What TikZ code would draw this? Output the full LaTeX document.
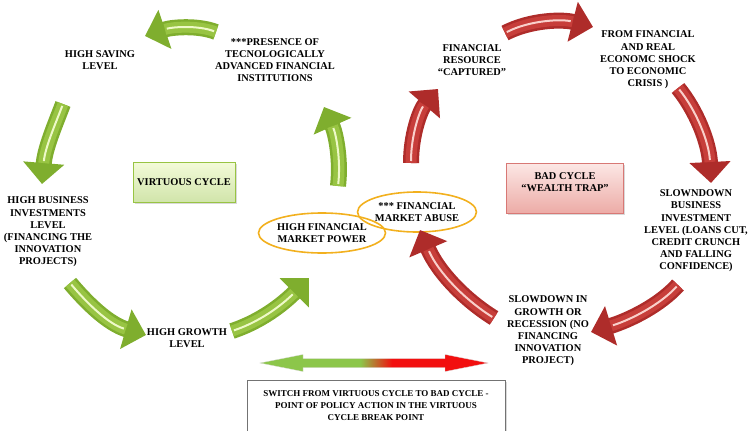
\documentclass[tikz,border=0pt]{standalone}
\usepackage{fontspec}
\setmainfont{Liberation Serif}
\usetikzlibrary{positioning,shapes.geometric,arrows.meta,shadows}

\definecolor{vgreen}{HTML}{7FAE2E}
\definecolor{vgreenmid}{HTML}{98C443}
\definecolor{vgreenlight}{HTML}{EEF9C8}
\definecolor{bred}{HTML}{AE2C2A}
\definecolor{bredmid}{HTML}{C73E3A}
\definecolor{bredlight}{HTML}{F9D0CB}
\definecolor{ringcol}{HTML}{F2B01E}
\definecolor{arrgreen}{HTML}{8CC64A}
\definecolor{arrred}{HTML}{F20F0F}

\pgfdeclarehorizontalshading{greentored}{100bp}{color(0bp)=(arrgreen); color(47bp)=(arrgreen); color(54bp)=(arrred); color(100bp)=(arrred)}

\begin{document}
\begin{tikzpicture}[x=1pt,y=-1pt,
    every node/.style={font=\bfseries\fontsize{10.4}{12.2}\selectfont, align=center},
    greenarrow/.style={draw=vgreen, line width=16pt, -{Triangle[width=40pt,length=21pt]},
        postaction={draw=vgreenmid, line width=11pt, shorten >=21pt, -},
        postaction={draw=vgreenlight, line width=2pt, shorten >=23pt, shorten <=2pt, -}},
    redarrow/.style={draw=bred, line width=16pt, -{Triangle[width=40pt,length=21pt]},
        postaction={draw=bredmid, line width=11pt, shorten >=21pt, -},
        postaction={draw=bredlight, line width=2pt, shorten >=23pt, shorten <=2pt, -}},
    ring/.style={draw=ringcol, line width=1.6pt, ellipse, minimum width=112pt, minimum height=40pt, inner sep=0pt},
    cyclebox/.style={draw, line width=0.6pt, drop shadow={opacity=0.3, shadow xshift=1.5pt, shadow yshift=-1.5pt}}
  ]
  \useasboundingbox (0,0) rectangle (750,431);

  % virtuous cycle
  \node (saving) at (100,60) {HIGH SAVING\\LEVEL};
  \node (presence) at (275,60) {***PRESENCE OF\\TECNOLOGICALLY\\ADVANCED FINANCIAL\\INSTITUTIONS};
  \node (business) at (48,232) {HIGH BUSINESS\\INVESTMENTS\\LEVEL\\(FINANCING THE\\INNOVATION\\PROJECTS)};
  \node (growth) at (187,338) {HIGH GROWTH\\LEVEL};
  \node (virtuous)[cyclebox, draw=vgreenmid, top color=vgreenlight!70, bottom color=vgreenmid!45,
      minimum width=102pt, minimum height=40pt] at (184,182) {VIRTUOUS CYCLE};

  % bad cycle
  \node (captured) at (472,60) {FINANCIAL\\RESOURCE\\“CAPTURED”};
  \node (shock) at (648,60) {FROM FINANCIAL\\AND REAL\\ECONOMC SHOCK\\TO ECONOMIC\\CRISIS )};
  \node (slowinvest) at (696,231) {SLOWNDOWN\\BUSINESS\\INVESTMENT\\LEVEL (LOANS CUT,\\CREDIT CRUNCH\\AND FALLING\\CONFIDENCE)};
  \node (recession) at (548,331) {SLOWDOWN IN\\GROWTH OR\\RECESSION (NO\\FINANCING\\INNOVATION\\PROJECT)};
  \node (bad)[cyclebox, draw=bredmid!70, top color=bredlight!50, bottom color=bredlight!75!bredmid,
      minimum width=117pt, minimum height=50pt] at (565,188) {BAD CYCLE\\“WEALTH TRAP”\\~};

  % market power
  \node (power)[ring] at (322,233) {HIGH FINANCIAL\\MARKET POWER};
  \node (abuse)[ring] at (417,212) {*** FINANCIAL\\MARKET ABUSE};

  % curved arrows
  \coordinate (g1s) at (216,32);  \coordinate (g1e) at (145,36);
  \coordinate (g2s) at (63,104);  \coordinate (g2e) at (42,184);
  \coordinate (g3s) at (70,283);  \coordinate (g3e) at (146,335);
  \coordinate (g4s) at (232,331); \coordinate (g4e) at (309,278);
  \coordinate (g5s) at (338,186); \coordinate (g5e) at (324,107);
  \draw[greenarrow] (g1s) .. controls (198,25) and (172,27) .. (g1e);
  \draw[greenarrow] (g2s) .. controls (55,125) and (45,148) .. (g2e);
  \draw[greenarrow] (g3s) .. controls (86,302) and (108,324) .. (g3e);
  \draw[greenarrow] (g4s) .. controls (265,320) and (287,300) .. (g4e);
  \draw[greenarrow] (g5s) .. controls (341,160) and (336,134) .. (g5e);

  \coordinate (r1s) at (494,318); \coordinate (r1e) at (420,230);
  \coordinate (r2s) at (411,163); \coordinate (r2e) at (438,89);
  \coordinate (r3s) at (505,33);  \coordinate (r3e) at (593,27);
  \coordinate (r4s) at (678,88);  \coordinate (r4e) at (711,183);
  \coordinate (r5s) at (678,285); \coordinate (r5e) at (591,332);
  \draw[redarrow] (r1s) .. controls (465,300) and (438,272) .. (r1e);
  \draw[redarrow] (r2s) .. controls (411,135) and (420,110) .. (r2e);
  \draw[redarrow] (r3s) .. controls (530,20) and (562,19) .. (r3e);
  \draw[redarrow] (r4s) .. controls (696,110) and (709,142) .. (r4e);
  \draw[redarrow] (r5s) .. controls (660,305) and (630,320) .. (r5e);

  % switch arrow and policy box
  \coordinate (sw1) at (260,363);
  \coordinate (sw2) at (488,363);
  \shade[shading=greentored, draw=white!85!black, line width=0.3pt]
    (sw1) -- (303,354.5) -- (303,358.5) -- (445,358.5) -- (445,354.5) -- (sw2)
    -- (445,371.5) -- (445,367.5) -- (303,367.5) -- (303,371.5) -- cycle;
  \node (policy)[cyclebox, draw=black!55, fill=white, minimum width=258pt, minimum height=52pt,
      font=\bfseries\fontsize{9}{12}\selectfont] at (376,406)
      {SWITCH FROM VIRTUOUS CYCLE TO BAD CYCLE -\\POINT OF POLICY ACTION IN THE  VIRTUOUS\\CYCLE BREAK POINT};
\end{tikzpicture}
\end{document}
